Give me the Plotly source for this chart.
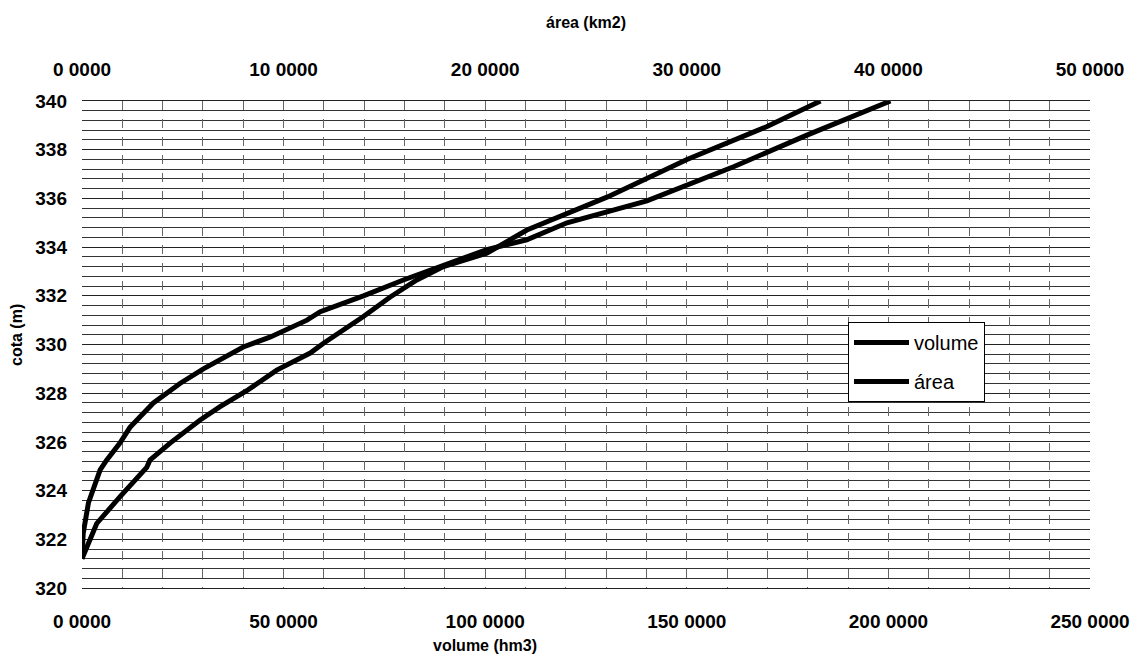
import plotly.graph_objects as go

# ---- data ----
cota_volume = [321.2, 322.25, 323.5, 324.85, 325.25, 325.95, 326.6, 327.6, 328.4, 329.0,
               329.9, 330.3, 331.0, 331.35, 332.0, 332.65, 333.25, 333.9, 334.3, 335.0,
               335.9, 337.3, 338.6, 340.0]
volume = [0.0, 0.3, 1.6, 4.5, 6.1, 9.4, 11.9, 17.7, 24.3, 30.1,
          40.0, 46.6, 55.8, 59.1, 69.8, 79.7, 89.7, 100.4, 110.3, 120.3,
          140.1, 161.6, 179.8, 200.5]

cota_area = [321.2, 322.65, 323.75, 324.95, 325.25, 325.95, 326.9, 327.45, 328.1, 328.95,
             329.65, 330.05, 331.15, 331.95, 332.65, 333.2, 333.75, 334.7, 336.05, 337.6,
             338.95, 340.0]
area = [0.0, 0.73, 1.89, 3.21, 3.37, 4.37, 5.86, 6.85, 8.17, 9.66,
        11.32, 11.98, 13.96, 15.29, 16.61, 17.93, 20.08, 22.07, 26.04, 30.01,
        33.98, 36.63]

volume_ticks = [0, 50, 100, 150, 200, 250]
volume_ticktext = ["0 0000", "50 0000", "100 0000", "150 0000", "200 0000", "250 0000"]
area_ticks = [0, 10, 20, 30, 40, 50]
area_ticktext = ["0 0000", "10 0000", "20 0000", "30 0000", "40 0000", "50 0000"]
cota_ticks = [320, 322, 324, 326, 328, 330, 332, 334, 336, 338, 340]

FONT = "Liberation Sans"
tickfont = dict(family=FONT, size=19, color="black", weight="bold")

fig = go.Figure()
fig.add_trace(go.Scatter(x=volume, y=cota_volume, mode="lines", name="volume",
                         line=dict(color="black", width=5), xaxis="x", yaxis="y",
                         legendgroup="v"))
fig.add_trace(go.Scatter(x=area, y=cota_area, mode="lines", name="área",
                         line=dict(color="black", width=5), xaxis="x2", yaxis="y",
                         legendgroup="a"))

fig.update_layout(
    width=1134, height=652,
    margin=dict(l=74, r=52, t=93, b=72),
    paper_bgcolor="white", plot_bgcolor="white",
    showlegend=True,
    xaxis=dict(range=[0, 250], tickvals=volume_ticks, ticktext=volume_ticktext,
               tickfont=tickfont, ticklabelstandoff=20,
               showgrid=False, zeroline=False, showline=False),
    xaxis2=dict(range=[0, 50], overlaying="x", side="top", tickvals=area_ticks,
                ticktext=area_ticktext, tickfont=tickfont, ticklabelstandoff=20,
                showgrid=False, zeroline=False, showline=False),
    xaxis3=dict(range=[0, 250], overlaying="x", side="bottom", tickmode="linear",
                tick0=0, dtick=10, showticklabels=False, ticks="",
                showgrid=True, gridcolor="#666", gridwidth=1, griddash="dash",
                zeroline=False, showline=True, mirror=True, linecolor="#222",
                linewidth=1),
    yaxis=dict(range=[320, 340], tickvals=cota_ticks, tickfont=tickfont,
               ticklabelstandoff=14, showgrid=True, gridcolor="#222", gridwidth=1,
               zeroline=False, showline=False,
               minor=dict(dtick=0.4, tick0=320, showgrid=True, gridcolor="#333",
                          gridwidth=1)),
    legend=dict(x=(848 - 82) / 1008, y=(588 - 322) / 487, xanchor="left", yanchor="top",
                bgcolor="white", bordercolor="black", borderwidth=1,
                font=dict(family=FONT, size=20, color="black"),
                itemwidth=55, tracegroupgap=10),
    annotations=[
        dict(text="área (km2)", xref="paper", yref="paper", x=0.5, y=1,
             yshift=79, showarrow=False, xanchor="center", yanchor="middle",
             font=dict(family=FONT, size=16, color="black", weight="bold")),
        dict(text="volume (hm3)", xref="paper", yref="paper",
             x=(485 - 82) / 1008, y=0, yshift=-57, showarrow=False,
             xanchor="center", yanchor="middle",
             font=dict(family=FONT, size=16, color="black", weight="bold")),
        dict(text="cota (m)", xref="paper", yref="paper", x=0, xshift=-66,
             y=(588 - 335) / 487, showarrow=False, textangle=-90,
             xanchor="center", yanchor="middle",
             font=dict(family=FONT, size=16, color="black", weight="bold")),
    ],
)

# grid-only axis needs a (invisible) trace to be drawn
fig.add_trace(go.Scatter(x=[0, 250], y=[320, 320], mode="lines", xaxis="x3", yaxis="y",
                         line=dict(width=0), hoverinfo="skip", showlegend=False))

fig.write_html("out.html")
